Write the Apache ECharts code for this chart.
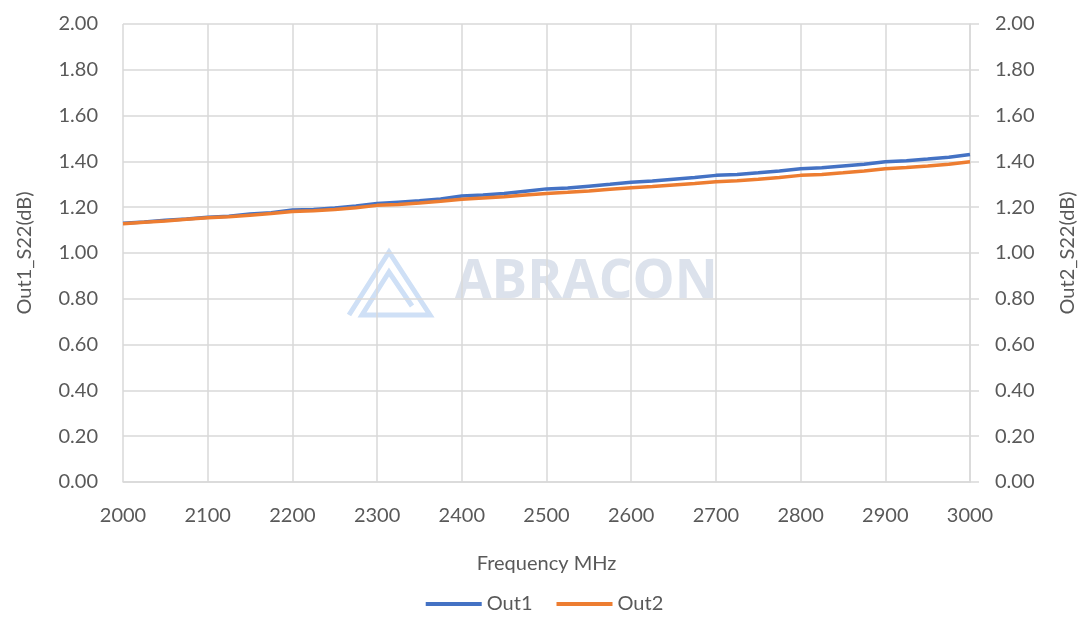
<!DOCTYPE html>
<html><head><meta charset="utf-8">
<script src="https://cdn.jsdelivr.net/npm/echarts@6/dist/echarts.min.js"></script>
<style>html,body{margin:0;padding:0;background:#fff}#c{width:1089px;height:617px}</style>
</head><body><div id="c"></div>
<script>
var freqMHz = [2000,2025,2050,2075,2100,2125,2150,2175,2200,2225,2250,2275,2300,2325,2350,2375,2400,2425,2450,2475,2500,2525,2550,2575,2600,2625,2650,2675,2700,2725,2750,2775,2800,2825,2850,2875,2900,2925,2950,2975,3000];
var out1 = [1.130,1.135,1.143,1.148,1.156,1.161,1.170,1.176,1.188,1.190,1.197,1.205,1.216,1.222,1.228,1.236,1.249,1.253,1.260,1.270,1.280,1.284,1.292,1.300,1.309,1.314,1.322,1.330,1.339,1.343,1.350,1.358,1.368,1.372,1.380,1.388,1.398,1.403,1.410,1.418,1.430];
var out2 = [1.128,1.134,1.140,1.147,1.154,1.158,1.165,1.172,1.181,1.185,1.190,1.198,1.208,1.212,1.218,1.226,1.235,1.240,1.246,1.253,1.260,1.265,1.271,1.278,1.285,1.290,1.297,1.303,1.311,1.316,1.322,1.330,1.339,1.343,1.350,1.358,1.368,1.373,1.380,1.388,1.398];
var yAxisNames = ['Out1_S22(dB)','Out2_S22(dB)'];
var xAxisName = 'Frequency MHz';
var seriesNames = ['Out1','Out2'];

var FONT = 'Lato';
var TXT = '#595959';
var FS = 20;
var chart = echarts.init(document.getElementById('c'));
function pairs(ys){ return freqMHz.map(function(f,i){return [f, ys[i]];}); }
var yLabel = {color:TXT, fontSize:FS, fontFamily:FONT, margin:25, formatter:function(v){return v.toFixed(2);}};
chart.setOption({
  animation:false,
  textStyle:{fontFamily:FONT},
  grid:{left:123,right:119,top:24,bottom:135,containLabel:false},
  xAxis:{type:'value',min:2000,max:3000,interval:100,
    name:xAxisName,nameLocation:'middle',nameGap:72,
    nameTextStyle:{color:TXT,fontSize:FS,fontFamily:FONT},
    axisLine:{show:true,lineStyle:{color:'#d9d9d9',width:1.5}},
    axisTick:{show:false},
    axisLabel:{color:TXT,fontSize:FS,fontFamily:FONT,margin:24,formatter:function(v){return String(v);}},
    splitLine:{show:true,lineStyle:{color:'#d9d9d9',width:1.5}}},
  yAxis:[
    {type:'value',min:0,max:2,interval:0.2,position:'left',
     name:yAxisNames[0],nameLocation:'middle',nameGap:88,
     nameTextStyle:{color:TXT,fontSize:FS,fontFamily:FONT},
     axisLine:{show:false},axisTick:{show:false},
     axisLabel:yLabel,
     splitLine:{show:true,lineStyle:{color:'#d9d9d9',width:1.5}}},
    {type:'value',min:0,max:2,interval:0.2,position:'right',
     name:yAxisNames[1],nameLocation:'middle',nameGap:88,nameRotate:90,
     nameTextStyle:{color:TXT,fontSize:FS,fontFamily:FONT},
     axisLine:{show:true,lineStyle:{color:'#d9d9d9',width:1.5}},
     axisTick:{show:true,length:9,inside:false,lineStyle:{color:'#d9d9d9',width:1.5}},
     axisLabel:yLabel,
     splitLine:{show:false}}
  ],
  legend:{bottom:-2,left:'center',itemWidth:56,itemHeight:4,itemGap:24,icon:'rect',
    textStyle:{color:TXT,fontSize:FS,fontFamily:FONT},
    data:seriesNames},
  graphic:[
    {type:'text',left:455,top:256,z:0,style:{text:'ABRACON',fill:'#dce2ec',font:'bold 53px "Open Sans"'}},
    {type:'polyline',z:0,shape:{points:[[349,315],[389,252],[430,315],[362,315],[389,272],[412,306]]},style:{stroke:'#cfe0f6',lineWidth:5,fill:null}}
  ],
  series:[
    {name:seriesNames[0],type:'line',yAxisIndex:0,data:pairs(out1),showSymbol:false,symbol:'none',
     lineStyle:{color:'#4472C4',width:3.5},itemStyle:{color:'#4472C4'},z:3},
    {name:seriesNames[1],type:'line',yAxisIndex:1,data:pairs(out2),showSymbol:false,symbol:'none',
     lineStyle:{color:'#ED7D31',width:3.5},itemStyle:{color:'#ED7D31'},z:4}
  ]
});
</script></body></html>
